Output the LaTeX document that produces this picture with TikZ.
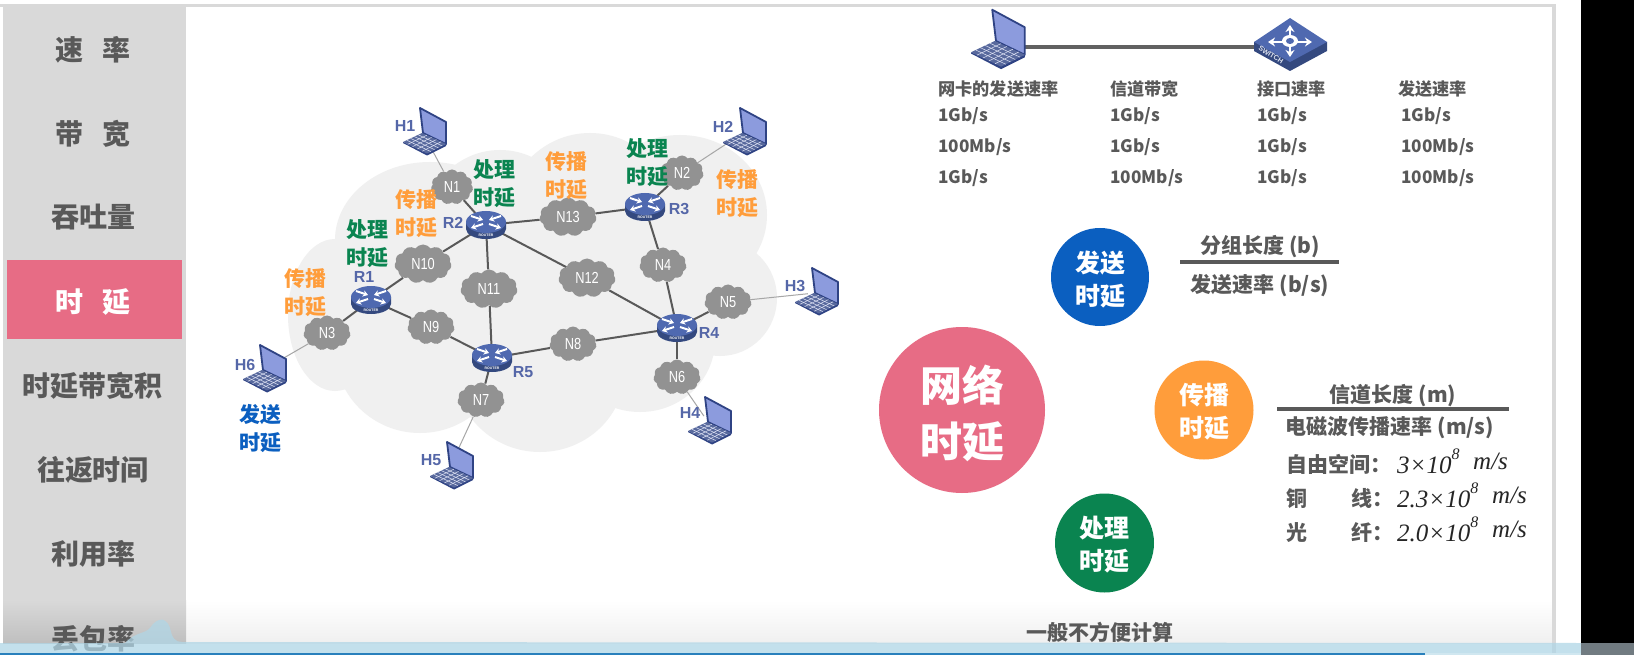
\documentclass[tikz,border=0pt]{standalone}
\usepackage{fontspec}
\usepackage{xcolor}
\setmainfont{Noto Sans CJK SC}
\newfontfamily\latinsans{Liberation Sans}
\newfontfamily\latinnarrow{Liberation Sans}[FakeStretch=0.8]
\newfontfamily\timesfam{Liberation Serif}
\usepackage{tikz}
\usetikzlibrary{positioning,calc,backgrounds,arrows.meta,shapes.symbols,shapes.geometric}

\definecolor{sidegray}{HTML}{D9D9D9}
\definecolor{txtgray}{HTML}{595959}
\definecolor{pinkc}{HTML}{E76C85}
\definecolor{bluec}{HTML}{0B5FC0}
\definecolor{orangec}{HTML}{FF9D3B}
\definecolor{greenc}{HTML}{0A8450}
\definecolor{cloudg}{HTML}{929292}
\definecolor{routert}{HTML}{4F69B0}
\definecolor{routerd}{HTML}{34497F}
\definecolor{lapd}{HTML}{2F4384}
\definecolor{lapl}{HTML}{8C9BDD}
\definecolor{hostc}{HTML}{5567A8}
\definecolor{wave}{HTML}{B0D6E6}

\newcommand{\fs}[1]{\fontsize{#1}{#1}\selectfont}

\tikzset{
side/.style={font=\fs{28}\bfseries,text=txtgray,yshift=-0.5pt},
cloudn/.style={cloud,cloud puffs=11,cloud puff arc=110,aspect=1.4,cloud ignores aspect,fill=cloudg,text=white,inner sep=0pt,font=\latinnarrow\fs{16},minimum width=47,minimum height=35},
cloudb/.style={cloudn,minimum width=57,minimum height=39},
rnode/.style={ellipse,inner sep=0pt,minimum width=40,minimum height=28},
hnode/.style={circle,inner sep=0pt,minimum size=14},
hlab/.style={font=\latinsans\fs{16}\bfseries,text=hostc},
dly/.style={align=center,font=\fontsize{21}{28}\selectfont\bfseries,inner sep=0pt,yshift=-1pt},
tab/.style={anchor=west,inner sep=0pt,font=\fs{17.2}\bfseries,text=txtgray,yshift=-1.5pt},
frm/.style={inner sep=0pt,font=\fs{21}\bfseries,text=txtgray,yshift=-1.5pt},
big/.style={circle,inner sep=0pt},
bigt/.style={align=center,inner sep=0pt,text=white,font=\fontsize{25}{33}\selectfont\bfseries},
lst/.style={anchor=west,inner sep=0pt,font=\fs{21}\bfseries,text=txtgray,yshift=-0.5pt},
mth/.style={anchor=west,inner sep=0pt,font=\timesfam\itshape\fs{25},text=black!85,yshift=3pt},
link/.style={draw=black!65,line width=2},
thin link/.style={draw=black!35,line width=1},
laptop/.pic={
\fill[lapl,draw=lapd,line width=1.8,line join=round] (-3,-25) -- (23,-11) -- (23,11) -- (0,0) -- cycle;
\fill[lapd] (-20,9) -- (-20,10) -- (4,22.5) -- (23,13) -- (23,11) -- (4,19) -- cycle;
\fill[lapd!80!white] (-20,9) -- (-1,0) -- (23,11) -- (4,20.5) -- cycle;
\foreach \t in {0.2,0.4,0.6,0.8}{
\draw[white!75!lapl,line width=0.5] ($(-20,9)!\t!(-1,0)$) -- ($(4,20.5)!\t!(23,11)$);
\draw[white!75!lapl,line width=0.5] ($(-20,9)!\t!(4,20.5)$) -- ($(-1,0)!\t!(23,11)$);
}
},
router/.pic={
\fill[routerd] (-20,-3) -- (-20,4) arc[start angle=180,end angle=360,x radius=20,y radius=-10] -- (20,-3) -- cycle;
\fill[routert] (0,-3) ellipse[x radius=20,y radius=11];
\foreach \a/\b/\c/\d in {-15/-9/-3/-5, -3/-1/-15/3, 15/-9/3/-5, 3/-1/15/3}{
\draw[white,line width=2,-{Stealth[length=5,width=6.5]}] (\a,\b) -- (\c,\d);
}
\node (-rtag) at (0,10) [white,inner sep=0pt,font=\latinsans\fs{3.5}\bfseries] {ROUTER};
},
switchp/.pic={
\fill[routerd] (-36,0) -- (-36,9) -- (0,29) -- (37,9) -- (37,0) -- cycle;
\fill[routert] (0,-24) -- (37,0) -- (0,20) -- (-36,0) -- cycle;
\foreach \a/\b in {-22/0,22/0,0/-17,0/15}{
\draw[white,line width=2.6,-{Stealth[length=7,width=9]}] (0,0) -- (\a,\b);
}
\fill[white] (0,-1) ellipse[x radius=8,y radius=6];
\fill[routert] (0,-1) ellipse[x radius=4,y radius=3];
\node (-rtag) at (-19,13) [rotate=-32,white!80!routert,inner sep=0pt,font=\latinsans\fs{7}\bfseries] {SWITCH};
}
}

\begin{document}
\begin{tikzpicture}[x=1pt,y=-1pt]
\useasboundingbox (0,0) rectangle (1634,655);

\node (s1) at (93,49) [side] {速\hspace{19pt}率};
\node (s2) at (93,133) [side] {带\hspace{19pt}宽};
\node (s3) at (93,217) [side] {吞吐量};
\node (s4) at (93,301) [side,text=white] {时\hspace{19pt}延};
\node (s5) at (93,385) [side] {时延带宽积};
\node (s6) at (93,469) [side] {往返时间};
\node (s7) at (93,553) [side] {利用率};
\node (s8) at (93,638) [side] {丢包率};

\node (n1) at (452,187) [cloudn,minimum width=42] {N1};
\node (n2) at (682,173) [cloudn,minimum width=43] {N2};
\node (n3) at (327,333) [cloudn] {N3};
\node (n4) at (663,265) [cloudn] {N4};
\node (n5) at (728,302) [cloudn] {N5};
\node (n6) at (677,377) [cloudn] {N6};
\node (n7) at (481,400) [cloudn] {N7};
\node (n8) at (573,344) [cloudn] {N8};
\node (n9) at (431,327) [cloudn] {N9};
\node (n10) at (423,264) [cloudb] {N10};
\node (n11) at (489,289) [cloudb] {N11};
\node (n12) at (587,278) [cloudb] {N12};
\node (n13) at (568,217) [cloudb] {N13};

\node (r1) at (371,300) [rnode] {};
\node (r2) at (486,225) [rnode] {};
\node (r3) at (645,207) [rnode] {};
\node (r4) at (677,328) [rnode] {};
\node (r5) at (492,358) [rnode] {};
\pic (pr1) at (371,300) {router};
\pic (pr2) at (486,225) {router};
\pic (pr3) at (645,207) {router};
\pic (pr4) at (677,328) {router};
\pic (pr5) at (492,358) {router};

\node (h1) at (423,133) [hnode] {};
\node (h2) at (743,133) [hnode] {};
\node (h3) at (815,293) [hnode] {};
\node (h4) at (708,422) [hnode] {};
\node (h5) at (450,467) [hnode] {};
\node (h6) at (263,370) [hnode] {};
\pic at (h1) {laptop};
\pic at (h2) {laptop};
\pic at (h3) {laptop};
\pic at (h4) {laptop};
\pic at (h5) {laptop};
\pic at (h6) {laptop};

\node (lh1) at (405,126) [hlab] {H1};
\node (lh2) at (723,127) [hlab] {H2};
\node (lh3) at (795,286) [hlab] {H3};
\node (lh4) at (690,413) [hlab] {H4};
\node (lh5) at (431,460) [hlab] {H5};
\node (lh6) at (245,365) [hlab] {H6};
\node (lr1) at (364,277) [hlab] {R1};
\node (lr2) at (453,223) [hlab] {R2};
\node (lr3) at (679,209) [hlab] {R3};
\node (lr4) at (709,333) [hlab] {R4};
\node (lr5) at (523,372) [hlab] {R5};

\node (c1) at (305,292) [dly,text=orangec] {传播\\时延};
\node (c2) at (416,213) [dly,text=orangec] {传播\\时延};
\node (c3) at (566,175) [dly,text=orangec] {传播\\时延};
\node (c4) at (737,193) [dly,text=orangec] {传播\\时延};
\node (p1) at (367,243) [dly,text=greenc] {处理\\时延};
\node (p2) at (494,183) [dly,text=greenc] {处理\\时延};
\node (p3) at (647,162) [dly,text=greenc] {处理\\时延};
\node (t1) at (260,428) [dly,text=bluec] {发送\\时延};

\node (lapn) at (996,41) [hnode] {};
\pic[scale=1.25] at (lapn) {laptop};
\node (swt) at (1290,42) [hnode] {};
\pic at (swt) {switchp};
\coordinate (lkl) at (1015,47);
\coordinate (lkr) at (1262,47);

\node (a0) at (938,87) [tab] {网卡的发送速率};
\node (a1) at (938,115) [tab] {1Gb/s};
\node (a2) at (938,146) [tab] {100Mb/s};
\node (a3) at (938,177) [tab] {1Gb/s};
\node (b0) at (1110,87) [tab] {信道带宽};
\node (b1) at (1110,115) [tab] {1Gb/s};
\node (b2) at (1110,146) [tab] {1Gb/s};
\node (b3) at (1110,177) [tab] {100Mb/s};
\node (d0) at (1257,87) [tab] {接口速率};
\node (d1) at (1257,115) [tab] {1Gb/s};
\node (d2) at (1257,146) [tab] {1Gb/s};
\node (d3) at (1257,177) [tab] {1Gb/s};
\node (e0) at (1398,87) [tab] {发送速率};
\node (e1) at (1401,115) [tab] {1Gb/s};
\node (e2) at (1401,146) [tab] {100Mb/s};
\node (e3) at (1401,177) [tab] {100Mb/s};

\node (net) at (962,410) [big,fill=pinkc,minimum size=166] {};
\node (nett) at (962,413) [bigt,font=\fontsize{42}{56}\selectfont\bfseries] {网络\\时延};
\node (snd) at (1100,277) [big,fill=bluec,minimum size=98] {};
\node (sndt) at (1100,279) [bigt] {发送\\时延};
\node (prg) at (1204,410) [big,fill=orangec,minimum size=99] {};
\node (prgt) at (1204,412) [bigt] {传播\\时延};
\node (prc) at (1104.5,543) [big,fill=greenc,minimum size=99] {};
\node (prct) at (1104.5,545) [bigt] {处理\\时延};

\node (f1a) at (1260,245) [frm] {分组长度 (b)};
\node (f1b) at (1260,284) [frm] {发送速率 (b/s)};
\coordinate (f1l) at (1180,262);
\coordinate (f1r) at (1339,262);
\draw[txtgray,line width=3.2] (f1l) -- (f1r);
\node (f2a) at (1393,394) [frm] {信道长度 (m)};
\node (f2b) at (1390,426) [frm] {电磁波传播速率 (m/s)};
\coordinate (f2l) at (1277,409);
\coordinate (f2r) at (1509,409);
\draw[txtgray,line width=3.2] (f2l) -- (f2r);

\node (k1) at (1286,464) [lst] {自由空间：};
\node (k2) at (1286,498) [lst] {铜};
\node (k2b) at (1351,498) [lst] {线：};
\node (k3) at (1286,532) [lst] {光};
\node (k3b) at (1351,532) [lst] {纤：};
\node (m1) at (1397,464) [mth] {3×10\raisebox{0.55em}{\fs{16}8}};
\node (m2) at (1397,498) [mth] {2.3×10\raisebox{0.55em}{\fs{16}8}};
\node (m3) at (1397,532) [mth] {2.0×10\raisebox{0.55em}{\fs{16}8}};
\node (u1) at (1473,464) [mth] {m/s};
\node (u2) at (1492,498) [mth] {m/s};
\node (u3) at (1492,532) [mth] {m/s};
\node (note) at (1100,631) [frm] {一般不方便计算};

\begin{pgfonlayer}{background}
\fill[white] (0,0) rectangle (1634,655);
\shade[top color=white,bottom color=black!6,draw=none] (186,600) rectangle (1552,643);
\fill[sidegray] (0,4) rectangle (1556,7);
\fill[sidegray] (1552,4) rectangle (1556,655);
\fill[sidegray] (3,4) rectangle (186,600);
\shade[top color=sidegray,bottom color=black!25,draw=none] (3,600) rectangle (186,643);
\fill[pinkc] (7,260) rectangle (182,339);
\fill[black] (1581,0) rectangle (1634,655);

\fill[black!6] (335,315) ellipse[x radius=47,y radius=76];
\fill[black!6] (430,240) ellipse[x radius=95,y radius=78];
\fill[black!6] (500,225) ellipse[x radius=75,y radius=75];
\fill[black!6] (590,220) ellipse[x radius=85,y radius=87];
\fill[black!6] (680,215) ellipse[x radius=87,y radius=80];
\fill[black!6] (720,298) ellipse[x radius=57,y radius=58];
\fill[black!6] (640,340) ellipse[x radius=75,y radius=72];
\fill[black!6] (540,370) ellipse[x radius=85,y radius=82];
\fill[black!6] (420,350) ellipse[x radius=85,y radius=83];

\draw[link] (n1) -- (r2);
\draw[link] (r2) -- (n13);
\draw[link] (n13) -- (r3);
\draw[link] (r3) -- (n2);
\draw[link] (r3) -- (n4);
\draw[link] (n4) -- (r4);
\draw[link] (r4) -- (n5);
\draw[link] (r4) -- (n6);
\draw[link] (r4) -- (n8);
\draw[link] (n8) -- (r5);
\draw[link] (r4) -- (n12);
\draw[link] (n12) -- (r2);
\draw[link] (r2) -- (n11);
\draw[link] (n11) -- (r5);
\draw[link] (r2) -- (n10);
\draw[link] (n10) -- (r1);
\draw[link] (r1) -- (n9);
\draw[link] (n9) -- (r5);
\draw[link] (r1) -- (n3);
\draw[link] (r5) -- (n7);
\draw[thin link] (n1) -- (h1);
\draw[thin link] (n2) -- (h2);
\draw[thin link] (n3) -- (h6);
\draw[thin link] (n5) -- (h3);
\draw[thin link] (n6) -- (h4);
\draw[thin link] (n7) -- (h5);
\draw[black!62,line width=4] (lkl) -- (lkr);
\end{pgfonlayer}

\fill[wave,opacity=0.75] (0,643) -- (125,643) .. controls (135,632) and (145,634) .. (150,628) .. controls (155,620) and (165,614) .. (170,628) .. controls (172,638) and (175,642) .. (182,642) -- (1581,643) -- (1581,653) -- (0,653) -- cycle;
\fill[cyan!70!blue!85!black] (0,653) rectangle (1425,655);
\fill[wave!60!white] (1425,653) rectangle (1581,655);
\fill[black!80!cyan!70!white] (1581,643) rectangle (1634,655);
\end{tikzpicture}
\end{document}
